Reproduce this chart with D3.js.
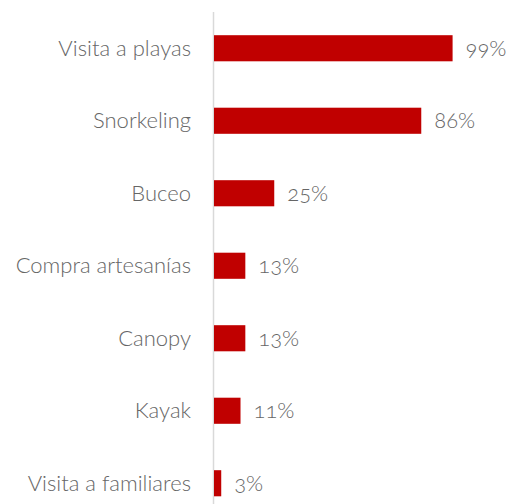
<!DOCTYPE html>
<html>
<head>
<meta charset="utf-8">
<script src="https://cdn.jsdelivr.net/npm/d3@7"></script>
<style>
  body { margin: 0; background: #fff; }
  text { font-family: Lato, "Open Sans", sans-serif; fill: #666666; font-variant-numeric: oldstyle-nums; }
</style>
</head>
<body>
<div class="svg-container"></div>
<script>
// data
const categories = ["Visita a playas", "Snorkeling", "Buceo", "Compra artesanías", "Canopy", "Kayak", "Visita a familiares"];
const values = [99, 86, 25, 13, 13, 11, 3];
const labels = ["99%", "86%", "25%", "13%", "13%", "11%", "3%"];

const w = 509;
const h = 504;
const axisX = 213.5;

const data = categories.map((c, i) => ({cat: c, val: values[i], lab: labels[i]}));

const svg = d3.select(".svg-container")
  .append("svg")
  .attr("width", w)
  .attr("height", h);

const x = d3.scaleLinear()
  .domain([0, 100])
  .range([214, 455]);

const y = d3.scaleBand()
  .domain(categories)
  .range([12, 519.5])
  .paddingInner(0.64)
  .paddingOuter(0.32);

// axis line
svg.append("line")
  .attr("x1", axisX).attr("x2", axisX)
  .attr("y1", 12).attr("y2", h)
  .style("stroke", "#d9d9d9")
  .style("stroke-width", 1.5);

svg.selectAll("rect.bar").data(data).enter()
  .append("rect")
  .attr("class", "bar")
  .attr("x", x(0))
  .attr("y", d => y(d.cat))
  .attr("width", d => x(d.val) - x(0))
  .attr("height", y.bandwidth())
  .style("fill", "#c00000");

// category labels
svg.selectAll("text.cat").data(data).enter()
  .append("text")
  .attr("class", "cat")
  .attr("x", 191)
  .attr("y", d => y(d.cat) + y.bandwidth() / 2)
  .attr("dy", "0.35em")
  .attr("text-anchor", "end")
  .style("font-size", "22px")
  .style("font-weight", 300)
  .text(d => d.cat);

// value labels
svg.selectAll("text.val").data(data).enter()
  .append("text")
  .attr("class", "val")
  .attr("x", d => x(d.val) + 13)
  .attr("y", d => y(d.cat) + y.bandwidth() / 2)
  .attr("dy", "0.35em")
  .style("font-size", "22px")
  .style("font-weight", 300)
  .text(d => d.lab);
</script>
</body>
</html>
